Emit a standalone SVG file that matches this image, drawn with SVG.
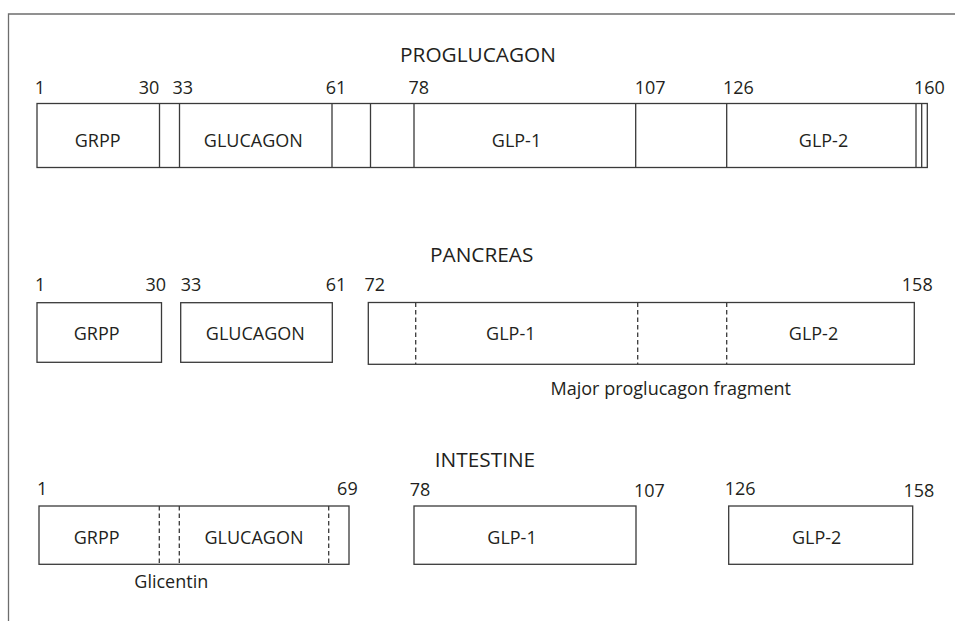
<svg xmlns="http://www.w3.org/2000/svg" width="955" height="621" viewBox="0 0 955 621">
<style>
text{font-family:"Open Sans","Noto Sans","Liberation Sans",sans-serif;fill:#231f20;font-size:18px}
.title{font-size:20.8px;text-anchor:middle}
.lbl{text-anchor:middle}
.end{text-anchor:end}
.box{fill:#fff;stroke:#3a3a3a;stroke-width:1.3}
.div{stroke:#3a3a3a;stroke-width:1.3;fill:none}
.dash{stroke:#3a3a3a;stroke-width:1.3;fill:none;stroke-dasharray:4.5 3}
.frame{stroke:#6d6d6d;stroke-width:1.3;fill:none}
</style>
<rect width="955" height="621" fill="#fff"/>
<path class="frame" d="M955 14 H8.5 V621"/>

<g id="proglucagon">
  <text class="title" x="478" y="61.5">PROGLUCAGON</text>
  <text x="34.7" y="93.5">1</text>
  <text class="end" x="159.3" y="93.5">30</text>
  <text x="172.4" y="93.5">33</text>
  <text class="end" x="346.4" y="93.5">61</text>
  <text x="408.4" y="93.5">78</text>
  <text x="634.7" y="93.5">107</text>
  <text x="723" y="93.5">126</text>
  <text x="914" y="93.5">160</text>
  <rect class="box" x="37" y="103.5" width="890.3" height="64"/>
  <g id="pro-grpp"><text class="lbl" x="97.7" y="146.7">GRPP</text></g>
  <g id="pro-glucagon"><text class="lbl" x="253.3" y="146.7">GLUCAGON</text></g>
  <g id="pro-glp1"><text class="lbl" x="516.5" y="146.7">GLP-1</text></g>
  <g id="pro-glp2"><text class="lbl" x="823.5" y="146.7">GLP-2</text></g>
  <path class="div" d="M159.5 103.5V167.5M179.5 103.5V167.5M332 103.5V167.5M370.5 103.5V167.5M414 103.5V167.5M635.7 103.5V167.5M726.7 103.5V167.5M916 103.5V167.5M921.7 103.5V167.5"/>
</g>

<g id="pancreas">
  <text class="title" x="481.7" y="262.3">PANCREAS</text>
  <g id="pan-grpp">
    <text x="35" y="291">1</text>
    <text class="end" x="166" y="291">30</text>
    <rect class="box" x="37" y="302.7" width="124.5" height="59.6"/>
    <text class="lbl" x="96.7" y="340">GRPP</text>
  </g>
  <g id="pan-glucagon">
    <text x="180.8" y="291">33</text>
    <text class="end" x="346.4" y="291">61</text>
    <rect class="box" x="180.7" y="302.7" width="151.6" height="59.6"/>
    <text class="lbl" x="255.3" y="340">GLUCAGON</text>
  </g>
  <g id="pan-mpgf">
    <text x="364.5" y="291">72</text>
    <text class="end" x="932.7" y="291">158</text>
    <rect class="box" x="368.3" y="302.5" width="546" height="61.8"/>
    <path class="dash" d="M415.7 302.5V364.3M637.7 302.5V364.3M726.7 302.5V364.3"/>
    <text class="lbl" x="510.8" y="340">GLP-1</text>
    <text class="lbl" x="813.5" y="340">GLP-2</text>
    <text class="lbl" x="670.8" y="394.5">Major proglucagon fragment</text>
  </g>
</g>

<g id="intestine">
  <text class="title" x="485" y="466.7">INTESTINE</text>
  <g id="int-glicentin">
    <text x="37" y="495.3">1</text>
    <text class="end" x="357.7" y="495.3">69</text>
    <rect class="box" x="39" y="506" width="310" height="58.3"/>
    <path class="dash" d="M159.3 506V564.3M179.3 506V564.3M328.7 506V564.3"/>
    <text class="lbl" x="96.7" y="544.3">GRPP</text>
    <text class="lbl" x="254" y="544.3">GLUCAGON</text>
    <text class="lbl" x="171.3" y="588">Glicentin</text>
  </g>
  <g id="int-glp1">
    <text x="409.8" y="496">78</text>
    <text x="634" y="496.7">107</text>
    <rect class="box" x="414" y="506" width="222" height="58.3"/>
    <text class="lbl" x="512" y="544.3">GLP-1</text>
  </g>
  <g id="int-glp2">
    <text x="724.7" y="495">126</text>
    <text class="end" x="934.3" y="496.7">158</text>
    <rect class="box" x="728.7" y="506" width="184" height="58.3"/>
    <text class="lbl" x="816.7" y="544.3">GLP-2</text>
  </g>
</g>
<g id="connectors"/>
</svg>
